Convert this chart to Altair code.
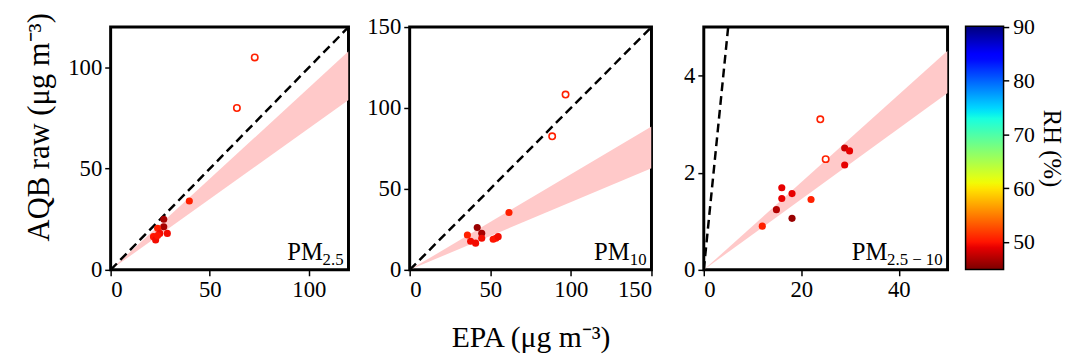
import altair as alt
import numpy as np
import pandas as pd

# ---------------- data ----------------
pm25_epa = [39.7, 26.8, 26.8, 23.7, 28.6, 24.8, 21.6, 22.7, 23.7, 72.7, 63.7]
pm25_aqb = [34.0, 25.0, 21.3, 20.5, 18.0, 18.0, 16.4, 14.8, 17.0, 105.0, 80.0]
pm25_rh = [50.5, 46.5, 46.5, 50.5, 49.5, 49.5, 50.0, 49.5, 50.0, 50.5, 50.5]
pm25_open = [False] * 9 + [True, True]

pm10_epa = [61.6, 41.9, 44.7, 35.8, 44.7, 37.8, 40.9, 51.8, 53.5, 54.9, 96.7, 88.4]
pm10_aqb = [35.4, 26.2, 22.6, 21.5, 19.5, 17.7, 16.5, 18.9, 19.5, 20.5, 108.3, 82.5]
pm10_rh = [50.5, 46.0, 46.5, 50.5, 49.5, 49.5, 49.5, 50.0, 50.0, 49.5, 50.5, 50.5]
pm10_open = [False] * 10 + [True, True]

pmc_epa = [28.9, 29.9, 28.9, 16.0, 16.0, 18.1, 22.0, 14.9, 18.1, 12.0, 23.9, 25.0]
pmc_aqb = [2.51, 2.45, 2.16, 1.69, 1.47, 1.57, 1.45, 1.24, 1.06, 0.90, 3.10, 2.28]
pmc_rh = [48.0, 49.0, 49.0, 49.0, 49.0, 49.0, 50.5, 47.0, 46.0, 50.5, 50.5, 50.5]
pmc_open = [False] * 10 + [True, True]

# fit bands (x end points, lower / upper y)
pm25_band_x = [0, 120]
pm25_band_lo = [0, 84]
pm25_band_hi = [0, 108]
pm10_band_x = [0, 150]
pm10_band_lo = [0, 62.8]
pm10_band_hi = [0, 88.6]
pmc_band_x = [0, 50]
pmc_band_lo = [0, 3.64]
pmc_band_hi = [0, 4.51]

# 1:1 lines
pm25_one = [0, 120]
pm10_one = [0, 150]
pmc_one = [0, 5]

rh_range = [45, 90]
rh_ticks = [50, 60, 70, 80, 90]

# ---------------- jet colormap ----------------
_r = ([0, 0.35, 0.66, 0.89, 1], [0, 0, 1, 1, 0.5])
_g = ([0, 0.125, 0.375, 0.64, 0.91, 1], [0, 0, 1, 1, 0, 0])
_b = ([0, 0.11, 0.34, 0.65, 1], [0.5, 1, 1, 0, 0])


def jet(t):
    r = np.interp(t, *_r)
    g = np.interp(t, *_g)
    b = np.interp(t, *_b)
    return "#%02x%02x%02x" % (int(round(r * 255)), int(round(g * 255)), int(round(b * 255)))


n_stops = 46
offs = np.linspace(0, 1, n_stops)
stop_colors = [jet(1 - o) for o in offs]
dom = [rh_range[0] + o * (rh_range[1] - rh_range[0]) for o in offs]
color_scale = alt.Scale(domain=dom, range=stop_colors, type="linear")

FONT = "Times New Roman, Liberation Serif, serif"
H = 246
TICK_FS = 23


def panel(epa, aqb, rh, op, bx, blo, bhi, one, xdom, ydom, xt, yt, sub, sub_w,
          W, ytitle=None, xtitle=None, ymin_extent=0):
    pts = pd.DataFrame({"epa": epa, "aqb": aqb, "rh": rh, "open": op})
    band = pd.DataFrame({"x": bx, "lo": blo, "hi": bhi})
    line = pd.DataFrame({"x": one, "y": one})
    xax = alt.Axis(values=xt, title=xtitle if xtitle else None,
                   titleFontSize=30, titlePadding=22, titleFont=FONT,
                   titleFontWeight="normal", titleColor="black")
    yargs = dict(values=yt, title=ytitle if ytitle else None,
                 titleFontSize=31, titlePadding=12, titleFont=FONT,
                 titleFontWeight="normal", titleColor="black",
                 minExtent=ymin_extent)
    if ytitle:
        yargs["titleY"] = 101
    yax = alt.Axis(**yargs)
    xs = alt.Scale(domain=xdom, nice=False)
    ys = alt.Scale(domain=ydom, nice=False)

    b = alt.Chart(band).mark_area(color="#ffc9c9", opacity=1, clip=True).encode(
        x=alt.X("x:Q", scale=xs, axis=xax),
        y=alt.Y("lo:Q", scale=ys, axis=yax),
        y2="hi:Q",
    )
    l = alt.Chart(line).mark_line(color="black", strokeDash=[9, 5], strokeWidth=2.5,
                                  clip=True).encode(
        x="x:Q", y="y:Q"
    )
    filled = alt.Chart(pts).transform_filter("!datum.open").mark_circle(
        size=52, opacity=1).encode(
        x="epa:Q", y="aqb:Q",
        color=alt.Color("rh:Q", scale=color_scale, legend=None),
    )
    hollow = alt.Chart(pts).transform_filter("datum.open").mark_point(
        shape="circle", filled=False, fill="white", fillOpacity=1, size=42,
        strokeWidth=1.6, opacity=1).encode(
        x="epa:Q", y="aqb:Q",
        color=alt.Color("rh:Q", scale=color_scale, legend=None),
    )
    lab_pm = alt.Chart(pd.DataFrame({"t": ["PM"]})).mark_text(
        font=FONT, fontSize=25, align="right", baseline="alphabetic", color="black"
    ).encode(text="t:N", x=alt.value(W - 5 - sub_w), y=alt.value(H - 10))
    lab_sub = alt.Chart(pd.DataFrame({"t": [sub]})).mark_text(
        font=FONT, fontSize=17, align="right", baseline="alphabetic", color="black"
    ).encode(text="t:N", x=alt.value(W - 5), y=alt.value(H - 5))
    return alt.layer(b, l, filled, hollow, lab_pm, lab_sub).properties(width=W, height=H)


p1 = panel(pm25_epa, pm25_aqb, pm25_rh, pm25_open, pm25_band_x, pm25_band_lo,
           pm25_band_hi, pm25_one, [0, 120], [0, 120], [0, 50, 100], [0, 50, 100],
           "2.5", 21, 241, ytitle="AQB raw (μg m⁻³)")
p2 = panel(pm10_epa, pm10_aqb, pm10_rh, pm10_open, pm10_band_x, pm10_band_lo,
           pm10_band_hi, pm10_one, [0, 150], [0, 150], [0, 50, 100, 150],
           [0, 50, 100, 150], "10", 17, 245, xtitle="EPA (μg m⁻³)")
p3 = panel(pmc_epa, pmc_aqb, pmc_rh, pmc_open, pmc_band_x, pmc_band_lo,
           pmc_band_hi, pmc_one, [0, 50], [0, 5], [0, 20, 40], [0, 2, 4],
           "2.5 − 10", 56, 247, ymin_extent=33)

cb_df = pd.DataFrame({"lo": [rh_range[0]], "hi": [rh_range[1]]})
grad = alt.Gradient(
    gradient="linear",
    stops=[alt.GradientStop(offset=float(o), color=c) for o, c in zip(offs, stop_colors)],
    x1=0, x2=0, y1=1, y2=0,
)
cbar = alt.Chart(cb_df).mark_rect(fill=grad).encode(
    x=alt.value(0), x2=alt.value(37),
    y=alt.Y("lo:Q", scale=alt.Scale(domain=rh_range, nice=False),
            axis=alt.Axis(orient="right", values=rh_ticks, title="RH (%)",
                          tickSize=6, labelPadding=4, labelFontSize=22,
                          titleFontSize=25, titlePadding=4, titleFont=FONT,
                          titleFontWeight="normal", titleColor="black")),
    y2="hi:Q",
).properties(width=37, height=245)

chart = alt.hconcat(p1, p2, p3, cbar, spacing=15).properties(
    padding={"left": 15, "top": 0, "right": 0, "bottom": 0}
).configure_view(
    stroke="black", strokeWidth=3
).configure_axis(
    labelFont=FONT, labelFontSize=TICK_FS, labelColor="black", labelPadding=3,
    tickColor="black", tickSize=6, tickWidth=1.5, domain=False, grid=False,
).configure_concat(spacing=15)

chart.save("out.html", embed_options={"renderer": "svg", "actions": False})
